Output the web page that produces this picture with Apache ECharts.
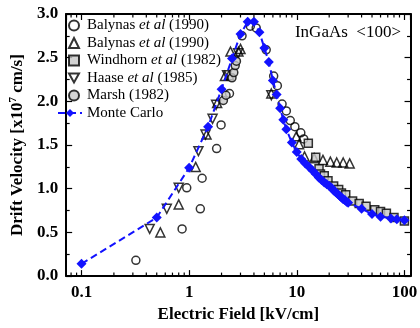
<!DOCTYPE html>
<html>
<head>
<meta charset="utf-8">
<script src="https://cdn.jsdelivr.net/npm/echarts@6/dist/echarts.min.js"></script>
<style>
  html, body { margin: 0; padding: 0; background: #fff; }
  #chart { width: 420px; height: 328px; }
</style>
</head>
<body>
<div id="chart"></div>
<script>
// measured points [field kV/cm, drift velocity 1e7 cm/s]
const balynasCircle = [[0.32,0.18],[0.86,0.54],[0.95,1.01],[1.27,0.77],[1.32,1.12],[1.8,1.46],[1.98,1.73],
  [2.37,2.09],[3.1,2.75],[3.7,2.86],[4.2,2.84],[5.2,2.59],[6.1,2.29],[6.6,2.18],[7.3,1.97],[8.0,1.89],
  [8.7,1.78],[9.6,1.71],[10.9,1.64],[11.6,1.57]];
const balynasTri = [[0.54,0.50],[0.8,0.82],[1.15,1.25],[1.45,1.62],[1.82,1.98],[2.15,2.29],[2.35,2.30],
  [2.42,2.57],[2.87,2.57],[3.0,2.60],[5.8,2.09],[9.9,1.60],[10.5,1.51],[11.8,1.37],[14.5,1.35],
  [17.5,1.33],[20.5,1.31],[23.5,1.30],[27,1.30],[31,1.29]];
const windhorn = [[12.8,1.52],[15,1.36],[16.1,1.23],[16.6,1.17],[18,1.15],[19.5,1.09],[22,1.03],[24.5,0.99],
  [26,0.95],[28.5,0.93],[33,0.86],[38,0.83],[44,0.80],[53,0.76],[60,0.74],[68,0.72],[80,0.67],[100,0.63]];
const haase = [[0.43,0.54],[0.62,0.77],[0.8,1.01],[1.22,1.43],[1.42,1.62],[1.65,1.80],[1.78,1.96],
  [2.25,2.30],[2.85,2.55],[5.8,2.07]];
const marsh = [[2.08,2.01],[2.2,2.07],[2.5,2.27],[2.6,2.33],[2.68,2.41],[2.75,2.46]];

// Monte Carlo
const mcField = [0.1,0.5,1,1.5,2,2.5,3,3.5,4,4.5,5,5.5,6,6.5,7,7.5,8,9,10,11,
  12,13,14,15,16,17,18,19,20,21,22,23,24,25,26,27,28,29,30,40,50,60,75,85,100];
const mcVel = [0.14,0.67,1.24,1.71,2.14,2.49,2.77,2.91,2.91,2.79,2.61,2.45,2.24,2.08,1.92,1.79,1.68,1.53,1.42,1.34,
  1.29,1.25,1.21,1.17,1.13,1.10,1.07,1.05,1.03,1.01,0.98,0.96,0.94,0.92,0.90,0.88,0.87,0.85,0.84,
  0.77,0.71,0.68,0.66,0.65,0.64];

// minor tick positions on the log axis
const minorX = [0.08,0.09,0.2,0.3,0.4,0.5,0.6,0.7,0.8,0.9,2,3,4,5,6,7,8,9,20,30,40,50,60,70,80,90];

const measNames = ['Balynas et al (1990)', 'Balynas et al (1990) ', 'Windhorn et al (1982)',
                   'Haase et al (1985)', 'Marsh (1982)'];

const serif = 'Liberation Serif';
const blue = '#1212ff';

const chart = echarts.init(document.getElementById('chart'));

const openStyle = { color: 'rgba(255,255,255,0)', borderColor: '#000', borderWidth: 1.5 };
const greyStyle = { color: '#c8c8c8', borderColor: '#000', borderWidth: 1.5 };

function axisBase(show) {
  return {
    axisLine: { show: true, onZero: false, lineStyle: { color: '#000', width: 2 } },
    axisTick: { show: true, inside: true, length: 6, lineStyle: { color: '#000', width: 1.2 } },
    axisLabel: { show: show, color: '#000', fontFamily: serif, fontWeight: 'bold', fontSize: 17 },
    splitLine: { show: false }
  };
}

function legendText(name) {
  const t = name.trim();
  const i = t.indexOf(' et al ');
  if (i < 0) return '{n|' + t + '}';
  return '{n|' + t.slice(0, i) + ' }{i|et al}{n| ' + t.slice(i + 7) + '}';
}

const legendRich = {
  n: { fontFamily: serif, fontSize: 15, color: '#000', lineHeight: 15 },
  i: { fontFamily: serif, fontSize: 15, fontStyle: 'italic', color: '#000', lineHeight: 15 }
};

chart.setOption({
  animation: false,
  backgroundColor: '#fff',
  grid: { left: 57, right: 7, top: 14, bottom: 37 },
  title: {
    text: 'InGaAs  <100>',
    right: 14, top: 19,
    textStyle: { fontFamily: serif, fontWeight: 'normal', fontSize: 17, color: '#000' }
  },
  legend: [
    {
      orient: 'vertical',
      left: 68, top: 18,
      padding: 0,
      itemGap: 2.5,
      itemWidth: 10, itemHeight: 10,
      selectedMode: false,
      data: measNames.map((n, i) => i === 3 ? { name: n, icon: 'path://M0,0L10,0L5,9Z' } : n),
      formatter: legendText,
      textStyle: { padding: [0, 0, 0, 3], rich: legendRich }
    },
    {
      orient: 'vertical',
      left: 57, top: 105.5,
      padding: 0,
      itemWidth: 24, itemHeight: 10,
      selectedMode: false,
      data: ['Monte Carlo'],
      formatter: legendText,
      textStyle: { rich: legendRich }
    }
  ],
  xAxis: [
    Object.assign(axisBase(true), {
      type: 'log', logBase: 10, min: 0.072, max: 114, position: 'bottom',
      name: 'Electric Field [kV/cm]', nameLocation: 'middle', nameGap: 19,
      nameTextStyle: { fontFamily: serif, fontWeight: 'bold', fontSize: 17, color: '#000' }
    }),
    Object.assign(axisBase(false), { type: 'log', logBase: 10, min: 0.072, max: 114, position: 'top' })
  ],
  yAxis: [
    Object.assign(axisBase(true), {
      type: 'value', min: 0, max: 3, interval: 0.5, position: 'left',
      minorTick: { show: true, splitNumber: 2, length: 3.5, lineStyle: { color: '#000', width: 1.2 } },
      name: '{a|Drift Velocity [x10}{s|7}{a| cm/s]}', nameLocation: 'middle', nameGap: 33,
      nameTextStyle: {
        rich: {
          a: { fontFamily: serif, fontWeight: 'bold', fontSize: 17, color: '#000' },
          s: { fontFamily: serif, fontWeight: 'bold', fontSize: 11, color: '#000', verticalAlign: 'top', padding: [0, 0, 8, 0] }
        }
      }
    }),
    Object.assign(axisBase(false), {
      type: 'value', min: 0, max: 3, interval: 0.5, position: 'right',
      minorTick: { show: true, splitNumber: 2, length: 3.5, lineStyle: { color: '#000', width: 1.2 } }
    })
  ],
  series: [
    {
      name: measNames[0], type: 'scatter', data: balynasCircle,
      symbol: 'circle', symbolSize: 8, itemStyle: openStyle, z: 3
    },
    {
      name: measNames[1], type: 'scatter', data: balynasTri,
      symbol: 'triangle', symbolSize: 9, itemStyle: openStyle, z: 3
    },
    {
      name: measNames[2], type: 'scatter', data: windhorn,
      symbol: 'rect', symbolSize: 8, itemStyle: greyStyle, z: 3
    },
    {
      name: measNames[3], type: 'scatter', data: haase,
      symbol: 'triangle', symbolRotate: 180, symbolSize: 9, itemStyle: openStyle, z: 3
    },
    {
      name: measNames[4], type: 'scatter', data: marsh,
      symbol: 'circle', symbolSize: 8, itemStyle: greyStyle, z: 3
    },
    {
      name: 'Monte Carlo', type: 'line', data: mcField.map((f, i) => [f, mcVel[i]]),
      symbol: 'diamond', symbolSize: 10, showSymbol: true,
      itemStyle: { color: blue },
      lineStyle: { color: blue, width: 2, type: [7, 4] }, z: 4
    },
    {
      type: 'custom', silent: true, z: 5,
      data: minorX.map(v => [v, 0]),
      renderItem: function (params, api) {
        const b = api.coord([api.value(0), 0]);
        const t = api.coord([api.value(0), 3]);
        const st = { stroke: '#000', lineWidth: 1.2 };
        return {
          type: 'group',
          children: [
            { type: 'line', shape: { x1: b[0], y1: b[1], x2: b[0], y2: b[1] - 3.5 }, style: st },
            { type: 'line', shape: { x1: t[0], y1: t[1], x2: t[0], y2: t[1] + 3.5 }, style: st }
          ]
        };
      }
    }
  ]
});
// y labels with one decimal
chart.setOption({ yAxis: [{ axisLabel: { formatter: v => v.toFixed(1) } }, {}] });
</script>
</body>
</html>
